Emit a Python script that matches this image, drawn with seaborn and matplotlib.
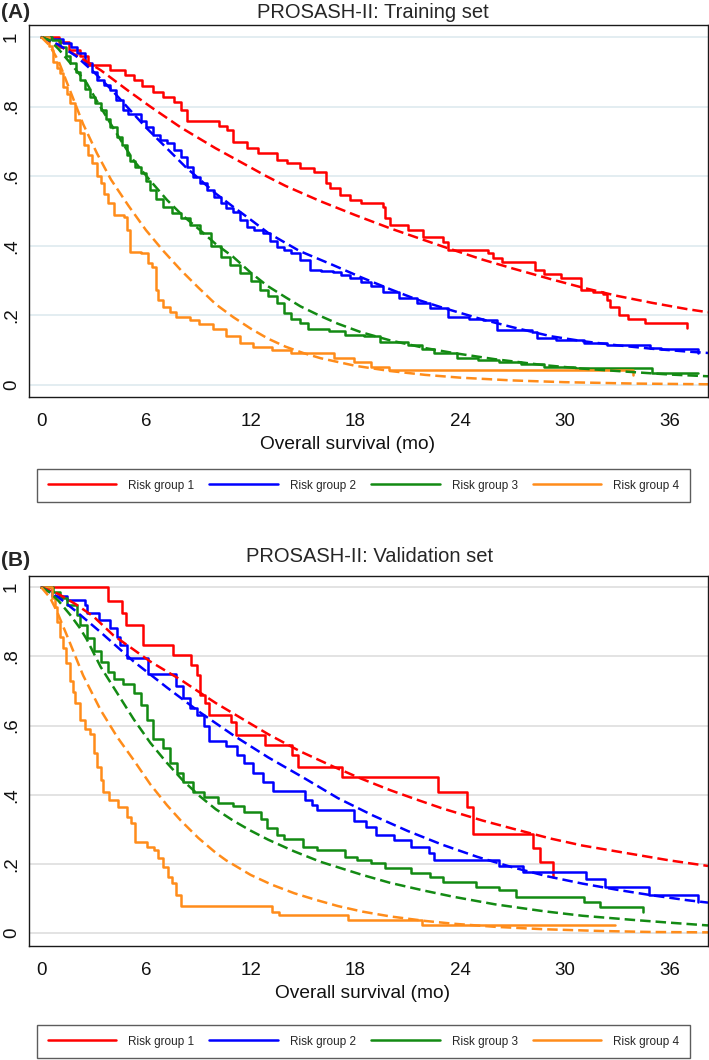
import matplotlib
matplotlib.use("Agg")
import matplotlib.pyplot as plt
from matplotlib.lines import Line2D
from matplotlib import font_manager
import pandas as pd
import seaborn as sns

groups = ["Risk group 1", "Risk group 2", "Risk group 3", "Risk group 4"]
colors = ["#ff0000", "#0000ff", "#138a13", "#ff8c1a"]
x_ticks = [0, 6, 12, 18, 24, 30, 36]
y_ticks = [0, 0.2, 0.4, 0.6, 0.8, 1.0]
y_tick_labels = ["0", ".2", ".4", ".6", ".8", "1"]

# ---- training set: Kaplan-Meier steps (month, survival) ----
train_km1 = [(0, 1.0), (1.0, 0.985), (1.6, 0.963), (2.2, 0.945), (2.7, 0.92), (3.95, 0.905),
             (4.8, 0.89), (5.3, 0.876), (5.8, 0.86), (6.4, 0.842), (7.0, 0.828), (7.6, 0.813),
             (8.0, 0.79), (8.35, 0.76), (10.2, 0.745), (10.65, 0.733), (11.0, 0.698), (11.8, 0.682),
             (12.4, 0.666), (13.5, 0.647), (14.1, 0.638), (14.85, 0.623), (15.6, 0.612), (16.3, 0.58),
             (16.55, 0.566), (17.1, 0.546), (17.7, 0.532), (18.3, 0.523), (19.6, 0.512), (19.7, 0.48),
             (20.0, 0.46), (21.0, 0.445), (21.9, 0.425), (23.0, 0.41), (23.3, 0.388), (25.6, 0.379),
             (25.9, 0.366), (26.4, 0.353), (28.3, 0.33), (28.8, 0.319), (29.75, 0.307), (30.9, 0.273),
             (31.6, 0.266), (32.2, 0.26), (32.4, 0.245), (32.6, 0.225), (33.1, 0.2), (33.6, 0.19),
             (34.6, 0.178), (37.0, 0.165)]
train_km2 = [(0, 1.0), (0.5, 0.995), (1.26, 0.983), (1.7, 0.97), (2.05, 0.954), (2.5, 0.925),
             (2.9, 0.9), (3.2, 0.876), (3.6, 0.862), (3.95, 0.848), (4.3, 0.82), (4.7, 0.79),
             (5.0, 0.78), (5.7, 0.76), (6.0, 0.74), (6.4, 0.718), (6.8, 0.705), (7.2, 0.695),
             (7.6, 0.675), (8.0, 0.655), (8.35, 0.625), (8.7, 0.598), (9.1, 0.58), (9.5, 0.56),
             (9.9, 0.54), (10.3, 0.523), (10.6, 0.51), (11.0, 0.498), (11.4, 0.475), (11.8, 0.454),
             (12.2, 0.445), (12.7, 0.437), (13.1, 0.415), (13.5, 0.397), (13.9, 0.388), (14.3, 0.379),
             (14.8, 0.36), (15.4, 0.33), (16.0, 0.328), (16.7, 0.326), (17.2, 0.315), (17.7, 0.307),
             (18.3, 0.296), (18.9, 0.283), (19.6, 0.267), (20.5, 0.25), (21.5, 0.235), (22.3, 0.22),
             (23.3, 0.196), (24.5, 0.19), (25.3, 0.187), (26.1, 0.158), (28.1, 0.152), (28.4, 0.135),
             (29.5, 0.13), (31.1, 0.121), (32.4, 0.115), (34.9, 0.106), (35.5, 0.102), (37.6, 0.092)]
train_km3 = [(0, 1.0), (0.6, 0.99), (1.1, 0.97), (1.4, 0.945), (1.66, 0.925), (2.0, 0.9),
             (2.2, 0.876), (2.5, 0.85), (2.8, 0.828), (3.1, 0.81), (3.4, 0.79), (3.7, 0.765),
             (3.95, 0.741), (4.35, 0.713), (4.6, 0.69), (4.9, 0.66), (5.1, 0.645), (5.4, 0.625),
             (5.7, 0.609), (6.0, 0.585), (6.25, 0.56), (6.6, 0.535), (7.0, 0.512), (7.5, 0.495),
             (8.0, 0.48), (8.5, 0.46), (9.1, 0.437), (9.7, 0.4), (10.3, 0.368), (10.8, 0.345),
             (11.4, 0.322), (12.0, 0.3), (12.55, 0.273), (13.0, 0.255), (13.5, 0.236), (13.9, 0.207),
             (14.3, 0.19), (14.8, 0.178), (15.3, 0.161), (16.5, 0.155), (17.4, 0.144), (18.5, 0.141),
             (19.4, 0.124), (21.0, 0.115), (21.8, 0.103), (22.5, 0.092), (23.8, 0.078), (25.0, 0.072),
             (26.2, 0.066), (27.5, 0.06), (28.8, 0.052), (30.6, 0.049), (35.0, 0.035), (37.6, 0.035)]
train_km4 = [(0, 1.0), (0.45, 0.975), (0.63, 0.963), (0.7, 0.928), (0.9, 0.91), (1.1, 0.897),
             (1.26, 0.856), (1.45, 0.835), (1.66, 0.81), (1.95, 0.761), (2.2, 0.724), (2.45, 0.69),
             (2.7, 0.66), (2.9, 0.638), (3.2, 0.6), (3.4, 0.58), (3.6, 0.55), (3.8, 0.523),
             (4.15, 0.489), (4.75, 0.483), (4.9, 0.445), (5.1, 0.383), (5.7, 0.379), (6.1, 0.35),
             (6.35, 0.34), (6.55, 0.273), (6.7, 0.244), (7.0, 0.224), (7.4, 0.21), (7.75, 0.196),
             (8.5, 0.187), (9.05, 0.175), (9.85, 0.16), (10.6, 0.14), (11.4, 0.121), (12.15, 0.109),
             (13.2, 0.1), (14.3, 0.092), (16.8, 0.078), (17.9, 0.066), (18.9, 0.052), (19.9, 0.043),
             (33.9, 0.03)]

# ---- training set: model-predicted survival (month, survival) ----
train_fit1 = [(0, 1.0), (1, 0.975), (2, 0.948), (3.4, 0.905), (5, 0.845), (6.25, 0.8), (8, 0.74),
              (10, 0.68), (12, 0.625), (12.9, 0.6), (14, 0.572), (16, 0.528), (18, 0.488), (20, 0.45),
              (21.5, 0.424), (23, 0.398), (25.3, 0.36), (27, 0.335), (29.2, 0.304), (31, 0.28),
              (33, 0.256), (35, 0.236), (37, 0.218), (38.2, 0.209)]
train_fit2 = [(0, 1.0), (1, 0.978), (2, 0.945), (3, 0.9), (4, 0.85), (5, 0.795), (6, 0.74),
              (7.2, 0.68), (8.3, 0.625), (9.1, 0.59), (10, 0.55), (11, 0.512), (12, 0.475),
              (13, 0.437), (14.8, 0.385), (16.7, 0.345), (18.3, 0.31), (20, 0.275), (21.5, 0.246),
              (23, 0.222), (25.3, 0.188), (27, 0.166), (29.2, 0.14), (31, 0.126), (33, 0.114),
              (35, 0.104), (37, 0.096), (38.2, 0.092)]
train_fit3 = [(0, 1.0), (0.5, 0.99), (1, 0.965), (2, 0.905), (2.6, 0.868), (3.2, 0.815),
              (3.95, 0.753), (4.6, 0.7), (5.3, 0.645), (6.2, 0.59), (7.2, 0.532), (8.1, 0.487),
              (9.1, 0.445), (10, 0.405), (11, 0.368), (12, 0.323), (12.95, 0.285), (14, 0.252),
              (14.85, 0.226), (16, 0.198), (17, 0.176), (18.3, 0.152), (20, 0.128), (22, 0.106),
              (23.6, 0.092), (26, 0.074), (28.8, 0.057), (31, 0.047), (33.9, 0.037), (36, 0.03),
              (38.2, 0.025)]
train_fit4 = [(0, 1.0), (0.5, 0.975), (1, 0.93), (1.66, 0.845), (2.4, 0.75), (3.2, 0.665),
              (4, 0.59), (5, 0.515), (6, 0.445), (7, 0.385), (8, 0.33), (9, 0.28), (10, 0.232),
              (11, 0.195), (12, 0.162), (13, 0.133), (14, 0.11), (15, 0.092), (16, 0.077),
              (18, 0.055), (20, 0.04), (22, 0.029), (24, 0.021), (27, 0.013), (30, 0.008),
              (34, 0.004), (38.2, 0.002)]

# ---- validation set: Kaplan-Meier steps ----
valid_km1 = [(0, 1.0), (3.8, 0.96), (4.6, 0.925), (4.85, 0.89), (5.85, 0.832), (7.55, 0.803),
             (8.6, 0.775), (8.9, 0.746), (9.1, 0.688), (9.4, 0.665), (9.6, 0.63), (10.9, 0.61),
             (11.15, 0.572), (12.8, 0.543), (14.35, 0.514), (14.7, 0.48), (17.25, 0.451),
             (22.75, 0.408), (24.4, 0.364), (24.75, 0.286), (28.15, 0.246), (28.6, 0.205),
             (29.3, 0.162)]
valid_km2 = [(0, 1.0), (0.6, 0.975), (1.5, 0.962), (2.5, 0.948), (2.6, 0.925), (3.3, 0.905),
             (3.95, 0.882), (4.35, 0.855), (4.5, 0.832), (4.9, 0.795), (6.1, 0.748), (7.7, 0.715),
             (8.15, 0.68), (8.5, 0.652), (8.9, 0.63), (9.3, 0.6), (9.6, 0.555), (10.6, 0.54),
             (11.2, 0.514), (11.6, 0.491), (12.15, 0.462), (12.7, 0.436), (13.3, 0.41),
             (15.1, 0.384), (15.5, 0.37), (15.8, 0.357), (17.9, 0.325), (18.6, 0.306),
             (19.2, 0.283), (20.2, 0.269), (21.2, 0.249), (22.2, 0.231), (22.5, 0.211),
             (26.2, 0.194), (27.6, 0.176), (31.2, 0.156), (32.3, 0.133), (34.8, 0.11), (37.6, 0.09)]
valid_km3 = [(0, 1.0), (0.7, 0.985), (1.1, 0.968), (1.5, 0.948), (2.05, 0.919), (2.2, 0.89),
             (2.6, 0.853), (3.0, 0.815), (3.4, 0.783), (3.8, 0.755), (4.15, 0.735), (4.7, 0.72),
             (5.3, 0.695), (5.7, 0.66), (6.05, 0.617), (6.4, 0.56), (7.0, 0.535), (7.4, 0.491),
             (7.8, 0.462), (8.15, 0.436), (8.7, 0.408), (9.3, 0.393), (10.1, 0.376), (11.0, 0.366),
             (11.6, 0.35), (12.6, 0.33), (12.95, 0.303), (13.5, 0.283), (13.9, 0.271), (15.0, 0.249),
             (15.8, 0.24), (17.4, 0.22), (18.1, 0.211), (18.9, 0.202), (19.7, 0.188), (21.2, 0.173),
             (22.3, 0.162), (23.0, 0.147), (24.9, 0.133), (26.2, 0.124), (27.2, 0.104),
             (31.1, 0.09), (32.0, 0.075), (34.5, 0.061)]
valid_km4 = [(0, 1.0), (0.6, 0.97), (0.8, 0.942), (0.9, 0.9), (1.1, 0.855), (1.26, 0.824),
             (1.4, 0.78), (1.66, 0.73), (1.83, 0.697), (1.95, 0.665), (2.2, 0.615), (2.5, 0.59),
             (2.8, 0.575), (3.0, 0.52), (3.2, 0.48), (3.4, 0.442), (3.55, 0.408), (3.9, 0.384),
             (4.4, 0.364), (4.9, 0.335), (5.15, 0.318), (5.4, 0.263), (6.05, 0.249), (6.45, 0.24),
             (6.7, 0.217), (7.0, 0.191), (7.25, 0.162), (7.5, 0.145), (7.75, 0.11), (8.0, 0.078),
             (13.2, 0.061), (13.6, 0.052), (17.6, 0.038), (21.8, 0.023), (32.9, 0.023)]

# ---- validation set: model-predicted survival ----
valid_fit1 = [(0, 1.0), (1, 0.98), (2, 0.95), (3, 0.915), (4.15, 0.86), (5, 0.83), (6.25, 0.785),
              (8, 0.732), (9.1, 0.695), (10, 0.665), (11, 0.635), (12, 0.605), (13, 0.575),
              (14.85, 0.525), (16.7, 0.482), (18.3, 0.447), (20, 0.413), (21.5, 0.386), (23, 0.36),
              (25.3, 0.325), (27, 0.302), (29.2, 0.273), (31, 0.253), (33.9, 0.228), (36, 0.21),
              (38.2, 0.194)]
valid_fit2 = [(0, 1.0), (1, 0.97), (2, 0.93), (3.4, 0.87), (5.3, 0.785), (7.2, 0.71),
              (9.1, 0.638), (11, 0.572), (13, 0.508), (15, 0.45), (17, 0.39), (19, 0.34),
              (21, 0.295), (23, 0.255), (25, 0.22), (27, 0.19), (29, 0.164), (31, 0.143),
              (33, 0.125), (35, 0.109), (37, 0.095), (38.2, 0.088)]
valid_fit3 = [(0, 1.0), (0.5, 0.985), (1, 0.96), (1.66, 0.92), (2.2, 0.883), (2.6, 0.85),
              (3.4, 0.77), (4.35, 0.694), (5.3, 0.618), (6.25, 0.55), (7.2, 0.492), (8.1, 0.442),
              (9.1, 0.395), (10, 0.358), (11, 0.325), (12, 0.296), (13, 0.27), (14.5, 0.236),
              (16, 0.206), (18.4, 0.168), (20, 0.145), (22, 0.122), (23.6, 0.105), (26, 0.083),
              (28.8, 0.063), (31, 0.05), (33.9, 0.038), (36, 0.03), (38.2, 0.022)]
valid_fit4 = [(0, 1.0), (0.5, 0.97), (0.9, 0.93), (1.5, 0.857), (2.4, 0.745), (3.4, 0.645),
              (4.35, 0.567), (5.3, 0.5), (6.25, 0.43), (7.2, 0.37), (8, 0.325), (9, 0.275),
              (10, 0.232), (10.6, 0.21), (12, 0.168), (13.2, 0.14), (14.5, 0.115), (15.8, 0.095),
              (17, 0.078), (18.4, 0.062), (20, 0.048), (22, 0.035), (23.6, 0.027), (26, 0.018),
              (28.8, 0.011), (32, 0.006), (35, 0.003), (38.2, 0.002)]


def long_df(series):
    rows = []
    for g, pts in zip(groups, series):
        for t, s in pts:
            rows.append({"month": t, "surv": s, "group": g})
    return pd.DataFrame(rows)


sns.set_style("white")
names = {f.name for f in font_manager.fontManager.ttflist}
base_font = "Liberation Sans Narrow" if "Liberation Sans Narrow" in names else "Liberation Sans"
plt.rcParams["font.family"] = [base_font, "DejaVu Sans"]

palette = dict(zip(groups, colors))
LW = 1.8

fig = plt.figure(figsize=(7.09, 10.6), dpi=100)
ax_top = fig.add_axes([0.0409, 0.6255, 0.9577, 0.3509])
ax_bot = fig.add_axes([0.0409, 0.1075, 0.9577, 0.3490])


def draw_panel(ax, km, fit, grid_color, ylim, xlabel_x):
    sns.lineplot(data=long_df(km), x="month", y="surv", hue="group", palette=palette,
                 estimator=None, sort=False, drawstyle="steps-post", lw=LW,
                 legend=False, ax=ax)
    sns.lineplot(data=long_df(fit), x="month", y="surv", hue="group", palette=palette,
                 estimator=None, sort=False, linestyle=(0, (4.2, 2.0)), lw=LW,
                 legend=False, ax=ax)
    ax.set_xlim(-0.7, 38.2)
    ax.set_ylim(*ylim)
    ax.set_xticks(x_ticks)
    ax.set_yticks(y_ticks)
    ax.set_yticklabels(y_tick_labels, rotation=90, va="center")
    ax.yaxis.grid(True, color=grid_color, lw=1.3)
    ax.xaxis.grid(False)
    ax.set_axisbelow(True)
    for sp in ax.spines.values():
        sp.set_visible(True)
        sp.set_color("#1a1a1a")
        sp.set_linewidth(1.0)
    ax.tick_params(axis="both", direction="out", length=4.5, width=1.0, color="#1a1a1a",
                   labelsize=13.5, labelcolor="#111111")
    ax.tick_params(axis="x", pad=7)
    ax.tick_params(axis="y", pad=2)
    ax.set_xlabel("Overall survival (mo)", fontsize=13.8, labelpad=5, color="#111111")
    ax.xaxis.set_label_coords(xlabel_x, -0.105)
    ax.set_ylabel("")


draw_panel(ax_top, [train_km1, train_km2, train_km3, train_km4],
           [train_fit1, train_fit2, train_fit3, train_fit4], "#e1ecf0", (-0.0345, 1.0345),
           (348 - 29) / 679)
draw_panel(ax_bot, [valid_km1, valid_km2, valid_km3, valid_km4],
           [valid_fit1, valid_fit2, valid_fit3, valid_fit4], "#e0e0e0", (-0.0376, 1.032),
           (363 - 29) / 679)

fig.text(373 / 709, 1 - 12 / 1060, "PROSASH-II: Training set", ha="center", va="center", fontsize=14.5)
fig.text(0.001, 1 - 12 / 1060, "(A)", ha="left", va="center", fontsize=15, fontweight="bold")
fig.text(370 / 709, 1 - 556 / 1060, "PROSASH-II: Validation set", ha="center", va="center", fontsize=14.5)
fig.text(0.001, 1 - 561 / 1060, "(B)", ha="left", va="center", fontsize=15, fontweight="bold")

handles = [Line2D([0], [0], color=c, lw=LW) for c in colors]
for y0 in [1 - 503 / 1060, 1 - 1059 / 1060]:
    leg = fig.legend(handles, groups, loc="center", ncol=4, mode="expand",
                     bbox_to_anchor=(37 / 709, y0, 653 / 709, 35 / 1060),
                     bbox_transform=fig.transFigure, fontsize=8.5, frameon=True,
                     fancybox=False, edgecolor="#333333", borderpad=0.9,
                     handlelength=5.8, handletextpad=1.0, borderaxespad=0)
    leg.get_frame().set_linewidth(1.0)

fig.savefig("out.png", dpi=100)
